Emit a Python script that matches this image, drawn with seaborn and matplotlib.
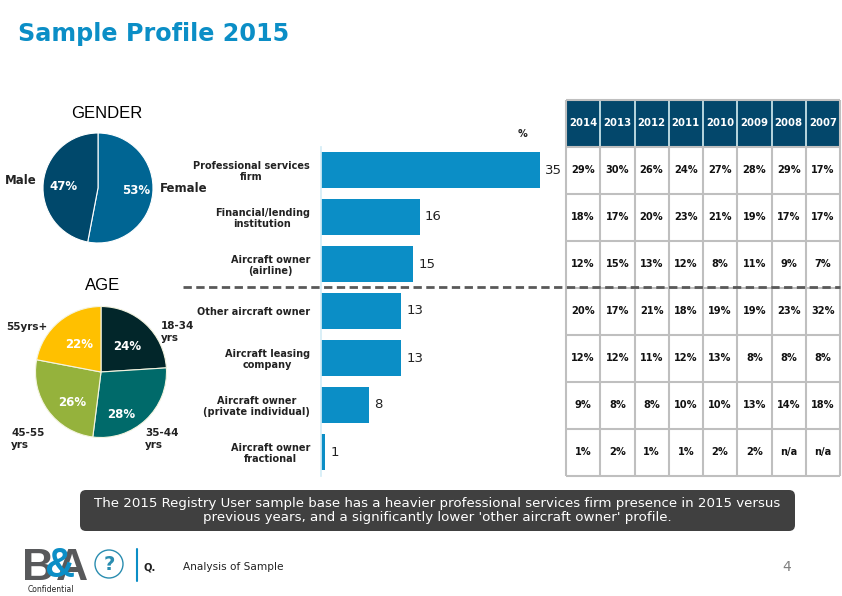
import numpy as np
import pandas as pd
import matplotlib
matplotlib.use("Agg")
import matplotlib.pyplot as plt
from matplotlib.patches import FancyBboxPatch, Circle, Rectangle
import seaborn as sns

gender_labels = ['Female', 'Male']
gender_values = [53, 47]
gender_colors = ['#006593', '#00486b']

age_labels = ['18-34\nyrs', '35-44\nyrs', '45-55\nyrs', '55yrs+']
age_values = [24, 28, 26, 22]
age_colors = ['#02262a', '#006a6a', '#95b23c', '#ffc000']

categories = ['Professional services\nfirm', 'Financial/lending\ninstitution',
              'Aircraft owner\n(airline)', 'Other aircraft owner',
              'Aircraft leasing\ncompany', 'Aircraft owner\n(private individual)',
              'Aircraft owner\nfractional']
# bar lengths as measured, the printed labels are these rounded
values_2015 = [35.4, 16, 14.9, 13, 13, 7.8, 0.7]

years = ['2014', '2013', '2012', '2011', '2010', '2009', '2008', '2007']
history = [
    ['29%', '30%', '26%', '24%', '27%', '28%', '29%', '17%'],
    ['18%', '17%', '20%', '23%', '21%', '19%', '17%', '17%'],
    ['12%', '15%', '13%', '12%', '8%', '11%', '9%', '7%'],
    ['20%', '17%', '21%', '18%', '19%', '19%', '23%', '32%'],
    ['12%', '12%', '11%', '12%', '13%', '8%', '8%', '8%'],
    ['9%', '8%', '8%', '10%', '10%', '13%', '14%', '18%'],
    ['1%', '2%', '1%', '1%', '2%', '2%', 'n/a', 'n/a'],
]

W, H = 842, 596
BLUE = '#0b8ec6'
GREY_LOGO = '#58595b'
sns.set_theme(style="white")
plt.rcParams['font.family'] = ['DejaVu Sans']

fig = plt.figure(figsize=(W / 100, H / 100), dpi=100)


def axes_px(x0, y0, x1, y1):
    # pixel box, y counted from the top like in the picture
    return fig.add_axes([x0 / W, 1 - y1 / H, (x1 - x0) / W, (y1 - y0) / H])


# overlay for all loose text and shapes, sits above the other axes
bg = axes_px(0, 0, W, H)
bg.set_xlim(0, W)
bg.set_ylim(H, 0)
bg.axis('off')
bg.set_zorder(10)

bg.text(18, 34, 'Sample Profile 2015', color=BLUE, fontsize=17.2, fontweight='bold', va='center')
bg.text(107, 114, 'GENDER', family='Liberation Sans', fontsize=12, ha='center', va='center', color='black')
bg.text(103, 286, 'AGE', family='Liberation Sans', fontsize=12, ha='center', va='center', color='black')
bg.text(522, 134, '%', fontsize=7, fontweight='bold', ha='center', va='center', color='#222222')

# pies
ax_g = axes_px(43, 133, 153, 243)
ax_g.pie(gender_values, colors=gender_colors, startangle=90, counterclock=False, radius=1,
         wedgeprops=dict(edgecolor='white', linewidth=0.8))
ax_g.set_xlim(-1, 1)
ax_g.set_ylim(-1, 1)

ax_a = axes_px(35.5, 306.5, 166.5, 437.5)
ax_a.pie(age_values, colors=age_colors, startangle=90, counterclock=False, radius=1,
         wedgeprops=dict(edgecolor='#f4f4e0', linewidth=0.8))
ax_a.set_xlim(-1, 1)
ax_a.set_ylim(-1, 1)

pct_pos_g = [(136, 190), (63, 186)]
for v, (x, y) in zip(gender_values, pct_pos_g):
    bg.text(x, y, f'{v}%', color='white', fontsize=8.5, fontweight='bold', ha='center', va='center')
pct_pos_a = [(127, 347), (121, 415), (72, 402), (79, 344)]
for v, (x, y) in zip(age_values, pct_pos_a):
    bg.text(x, y, f'{v}%', color='white', fontsize=8.5, fontweight='bold', ha='center', va='center')

bg.text(160, 188, gender_labels[0], fontsize=8.5, fontweight='bold', va='center', color='#222222')
bg.text(5, 180, gender_labels[1], fontsize=8.5, fontweight='bold', va='center', color='#222222')
age_pos = [(161, 332), (145, 439), (11, 439), (6, 327)]
for lab, (x, y) in zip(age_labels, age_pos):
    bg.text(x, y, lab, fontsize=7.5, fontweight='bold', va='center', color='#222222', linespacing=1.15)

# bars
bar_df = pd.DataFrame({'category': categories, 'value': values_2015})
ax_b = axes_px(321, 146.5, 540, 475.5)
sns.barplot(data=bar_df, x='value', y='category', color=BLUE, saturation=1, width=0.77,
            linewidth=0, ax=ax_b)
ax_b.set_xlim(0, 35.4)
ax_b.set_xlabel('')
ax_b.set_ylabel('')
ax_b.set_xticks([])
ax_b.set_yticks(range(len(categories)))
ax_b.set_yticklabels(categories, fontsize=7, fontweight='bold', color='#222222', linespacing=1.15,
                     ha='right', multialignment='center')
ax_b.tick_params(axis='y', length=0, pad=8)
ax_b.patch.set_alpha(0)
sns.despine(ax=ax_b, top=True, right=True, bottom=True, left=False)
ax_b.spines['left'].set_color('#d5edf6')
for i, v in enumerate(values_2015):
    ax_b.annotate(f'{v:.0f}', (v, i), xytext=(3.6, 0), textcoords='offset points', fontsize=9.5,
                  va='center', color='#222222', annotation_clip=False)

# table
ax_t = axes_px(566, 100, 840, 475.5)
n_cols = len(years)
ax_t.set_xlim(0, n_cols)
ax_t.set_ylim(len(history), -1)
ax_t.axis('off')
ax_t.add_patch(Rectangle((0, -1), n_cols, 1, facecolor='#03476b', edgecolor='none'))
for j, yr in enumerate(years):
    ax_t.text(j + 0.5, -0.5, yr, color='white', fontsize=7.3, fontweight='bold', ha='center', va='center')
    for i, row in enumerate(history):
        ax_t.text(j + 0.5, i + 0.5, row[j], color='#111111', fontsize=7.1, fontweight='bold', ha='center', va='center')
ax_t.vlines(range(1, n_cols), -1, 0, color='#d6eef2', lw=1.2)
ax_t.vlines(range(0, n_cols + 1), 0, len(history), color='#bfbfbf', lw=1.5, clip_on=False)
ax_t.vlines([0, n_cols], -1, 0, color='#bfbfbf', lw=1.5, clip_on=False)
ax_t.hlines(range(-1, len(history) + 1), 0, n_cols, color='#bfbfbf', lw=1.5, clip_on=False)

# dashed divider
bg.plot([183, 840], [287, 287], color='#595959', lw=2, ls=(0, (3, 1.6)))

# callout
bg.add_patch(FancyBboxPatch((80, 490), 715, 41, boxstyle='round,pad=0,rounding_size=6',
                            facecolor='#404040', edgecolor='none'))
bg.text(437, 510.5, "The 2015 Registry User sample base has a heavier professional services firm presence in 2015 versus\n"
        "previous years, and a significantly lower 'other aircraft owner' profile.",
        color='white', fontsize=9.6, ha='center', va='center', linespacing=1.1)

# footer
bg.text(38, 568, 'B', color=GREY_LOGO, fontsize=32, fontweight='bold', ha='center', va='center', family='Liberation Sans')
bg.text(72, 568, 'A', color=GREY_LOGO, fontsize=32, fontweight='bold', ha='center', va='center', family='Liberation Sans')
bg.text(59, 566, '&', color=BLUE, fontsize=30, fontweight='bold', ha='center', va='center', family='Liberation Sans')
bg.text(51, 589, 'Confidential', fontsize=5.5, ha='center', va='center', color='#222222')
bg.add_patch(Circle((109, 564), 14, facecolor='white', edgecolor='#2a8db0', lw=1))
bg.text(109, 564, '?', color='#2a8db0', fontsize=14, fontweight='bold', ha='center', va='center')
bg.plot([136.5, 136.5], [549, 581], color='#0b8ec6', lw=1.5)
bg.text(144, 567, 'Q.', fontsize=7.2, fontweight='bold', va='center', color='#222222')
bg.text(183, 567, 'Analysis of Sample', fontsize=7.6, va='center', color='#222222')
bg.text(787, 567, '4', fontsize=10, ha='center', va='center', color='#7f7f7f')

fig.savefig('out.png', dpi=100)
